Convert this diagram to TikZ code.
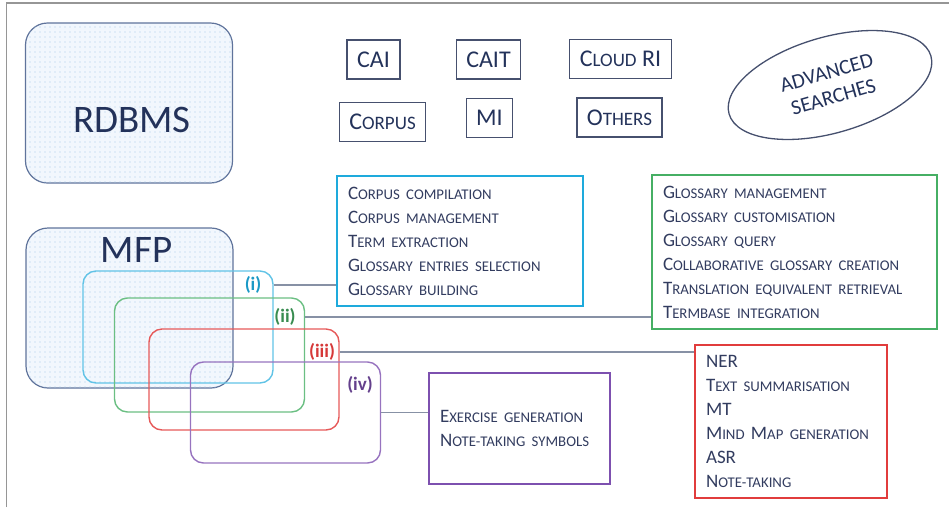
\documentclass[tikz,border=0pt]{standalone}
\usepackage{fontspec}
\setmainfont{Carlito}
\usetikzlibrary{positioning,shapes.geometric,patterns.meta}

\definecolor{navy}{RGB}{35,50,90}
\definecolor{txtc}{RGB}{50,60,95}
\definecolor{boxc}{RGB}{70,80,110}
\definecolor{dbc}{RGB}{95,115,155}
\definecolor{dbfill}{RGB}{242,247,253}
\definecolor{dotc}{RGB}{165,200,232}
\definecolor{cyanc}{RGB}{30,170,220}
\definecolor{greenc}{RGB}{70,175,100}
\definecolor{redc}{RGB}{225,60,60}
\definecolor{purplec}{RGB}{125,80,175}
\definecolor{lnkc}{RGB}{135,145,165}
\definecolor{framec}{RGB}{150,150,150}

\newcommand\scl[2]{#1{\fontsize{14.8}{24}\selectfont\MakeUppercase{#2}}}
\newcommand\scb[2]{#1{\fontsize{19}{28}\selectfont\MakeUppercase{#2}}}

\begin{document}
\begin{tikzpicture}[x=1pt,y=-1pt,
    dbbox/.style={draw=dbc,line width=1.2pt,rounded corners=22pt,fill=dbfill,
      postaction={pattern={Dots[distance=5pt,radius=0.6pt]},pattern color=dotc},
      minimum width=207pt,minimum height=160pt},
    big/.style={text=navy,font=\fontsize{39}{40}\selectfont},
    tool/.style={draw=boxc,line width=1.3pt,minimum height=39pt,inner xsep=10pt,
      text=navy,font=\fontsize{24}{28}\selectfont},
    ovl/.style={draw=#1,line width=1.4pt,rounded corners=13pt,minimum width=190pt},
    tag/.style={text=#1,font=\bfseries\fontsize{19}{20}\selectfont,inner sep=1pt},
    listbox/.style={draw=#1,line width=1.8pt,align=left,inner xsep=11pt,
      text=txtc,font=\fontsize{19}{24}\selectfont},
    lnk/.style={draw=lnkc,line width=1.3pt}]
\useasboundingbox (0,0) rectangle (949,507);
\draw[framec,line width=1.5pt] (6.5,507) -- (6.5,3) -- (949,3);

\node[dbbox,label={[big,xshift=3pt,yshift=-17pt]center:RDBMS}] (rdbms) at (129,103) {};
\node[dbbox,label={[big,xshift=7pt,yshift=58pt]center:MFP}] (mfp) at (129.5,308) {};

\node[tool] (cai) at (373.5,59.5) {CAI};
\node[tool] (cait) at (488.5,59.5) {CAIT};
\node[tool] (cloud) at (620.5,59) {\scb{C}{loud} RI};
\node[tool] (corpus) at (382.5,122) {\scb{C}{orpus}};
\node[tool] (mi) at (489.5,118) {MI};
\node[tool] (others) at (619.5,117.5) {\scb{O}{thers}};
\node[draw=boxc,line width=1.3pt,ellipse,minimum width=210pt,minimum height=96pt,
  rotate=16,align=center,text=navy,font=\fontsize{21}{25}\selectfont] (adv) at (830,85) {ADVANCED\\SEARCHES};

\node[ovl=cyanc!70,minimum height=112pt] (ri) at (178,327) {};
\node[ovl=greenc!80,minimum height=114pt] (rii) at (209.5,355) {};
\node[ovl=redc!85,minimum height=101pt] (riii) at (244,379.5) {};
\node[ovl=purplec!80,minimum height=101pt] (riv) at (285.5,412.5) {};

\node[tag=cyanc!90!black] (ti) at (253,285) {(i)};
\node[tag=greenc!80!black] (tii) at (285,317) {(ii)};
\node[tag=redc!95!black] (tiii) at (322,352) {(iii)};
\node[tag=purplec!80!black] (tiv) at (360,385) {(iv)};

\node[listbox=cyanc,text width=224pt,minimum height=130pt] (bi) at (460,241)
  {\scl{C}{orpus compilation}\\\scl{C}{orpus management}\\\scl{T}{erm extraction}\\
   \scl{G}{lossary entries selection}\\\scl{G}{lossary building}};
\node[listbox=greenc,text width=263pt,minimum height=154pt] (bii) at (794.5,252)
  {\scl{G}{lossary management}\\\scl{G}{lossary customisation}\\\scl{G}{lossary query}\\
   \scl{C}{ollaborative glossary creation}\\\scl{T}{ranslation equivalent retrieval}\\
   \scl{T}{ermbase integration}};
\node[listbox=redc,text width=170pt,minimum height=153pt] (biii) at (791,421.5)
  {NER\\\scl{T}{ext summarisation}\\MT\\\scl{M}{ind }\scl{M}{ap generation}\\ASR\\
   \scl{N}{ote-taking}};
\node[listbox=purplec,text width=159pt,minimum height=111pt] (biv) at (519.5,428.5)
  {\scl{E}{xercise generation}\\\scl{N}{ote-taking symbols}};

\draw[lnk] (ri.east |- ti) -- (bi.west |- ti);
\draw[lnk] (rii.east |- tii) -- (bii.west |- tii);
\draw[lnk] (riii.east |- tiii) -- (biii.west |- tiii);
\draw[lnk] (riv.east) -- (riv.east -| biv.west);
\end{tikzpicture}
\end{document}
